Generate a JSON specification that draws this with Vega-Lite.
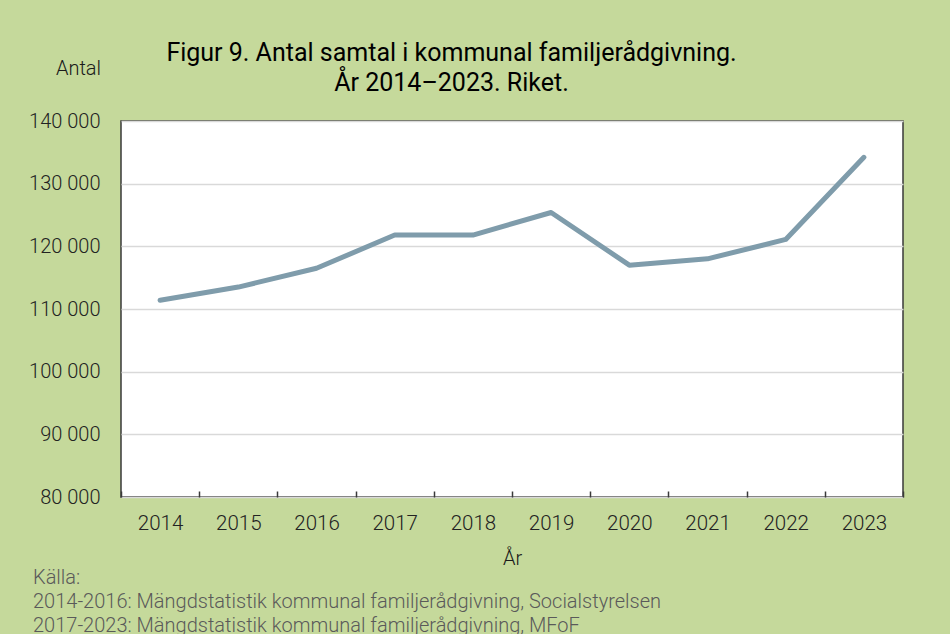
{
  "$schema": "https://vega.github.io/schema/vega-lite/v6.json",
  "width": 782,
  "height": 376,
  "autosize": {"type": "none"},
  "padding": {"left": 121, "top": 121, "right": 47, "bottom": 137},
  "background": "#c5d99b",
  "config": {
    "font": "Roboto",
    "view": {"fill": "white", "stroke": "#3a3a3a", "strokeWidth": 1.5}
  },
  "title": {
    "text": ["Källa:", "2014-2016: Mängdstatistik kommunal familjerådgivning, Socialstyrelsen", "2017-2023: Mängdstatistik kommunal familjerådgivning, MFoF"],
    "orient": "bottom",
    "anchor": "start",
    "frame": "group",
    "dx": -88,
    "offset": 0,
    "fontSize": 20,
    "fontWeight": 300,
    "color": "#5a5a5a",
    "lineHeight": 24,
    "font": "Roboto"
  },
  "data": {
    "values": [
      {"year": "2014", "antal": 111400},
      {"year": "2015", "antal": 113500},
      {"year": "2016", "antal": 116500},
      {"year": "2017", "antal": 121800},
      {"year": "2018", "antal": 121800},
      {"year": "2019", "antal": 125400},
      {"year": "2020", "antal": 117000},
      {"year": "2021", "antal": 118000},
      {"year": "2022", "antal": 121100},
      {"year": "2023", "antal": 134200}
    ]
  },
  "layer": [
    {
      "mark": {"type": "line", "color": "#7f9cab", "strokeWidth": 5, "strokeCap": "round", "strokeJoin": "round"},
      "encoding": {
        "x": {
          "field": "year", "type": "ordinal", "bandPosition": 0.5,
          "scale": {"type": "band", "paddingInner": 0, "paddingOuter": 0},
          "axis": {
            "orient": "bottom",
            "title": "År",
            "titleFontSize": 20,
            "titleFontWeight": 300,
            "titleColor": "#1a1a1a",
            "titleX": 391,
            "titleY": 61,
            "titleBaseline": "middle",
            "titleAlign": "center",
            "labelAngle": 0,
            "labelFontSize": 20.5,
            "labelFontWeight": 300,
            "labelColor": "#222222",
            "labelPadding": 22,
            "labelBaseline": "top",
            "tickBand": "extent",
            "tickSize": -6,
            "tickColor": "#3a3a3a",
            "tickWidth": 1.5,
            "domain": false,
            "grid": false
          }
        },
        "y": {
          "field": "antal", "type": "quantitative",
          "scale": {"domain": [80000, 140000], "nice": false, "zero": false},
          "axis": {
            "values": [80000, 90000, 100000, 110000, 120000, 130000, 140000],
            "labelExpr": "replace(format(datum.value, ','), ',', ' ')",
            "title": "Antal",
            "titleAngle": 0,
            "titleX": -43,
            "titleY": -53,
            "titleAlign": "center",
            "titleBaseline": "middle",
            "titleFontSize": 20,
            "titleFontWeight": 300,
            "titleColor": "#1a1a1a",
            "labelFontSize": 20,
            "labelFontWeight": 300,
            "labelColor": "#222222",
            "labelPadding": 21,
            "ticks": false,
            "domain": false,
            "grid": true,
            "gridColor": "#d9d9d9",
            "gridWidth": 1.5
          }
        }
      }
    },
    {
      "mark": {"type": "point", "opacity": 0},
      "encoding": {
        "x": {
          "field": "year", "type": "ordinal", "bandPosition": 0.5,
          "axis": {
            "orient": "top",
            "title": ["Figur 9. Antal samtal i kommunal familjerådgivning.", "År 2014–2023. Riket."],
            "titleFontSize": 25,
            "titleFontWeight": "normal",
            "titleColor": "#000000",
            "titleLineHeight": 30,
            "titleX": 330,
            "titleY": -61,
            "titleAlign": "center",
            "titleBaseline": "alphabetic",
            "labels": false,
            "ticks": false,
            "domain": false,
            "grid": false
          }
        },
        "y": {"field": "antal", "type": "quantitative"}
      }
    }
  ],
  "resolve": {"axis": {"x": "independent"}}
}
